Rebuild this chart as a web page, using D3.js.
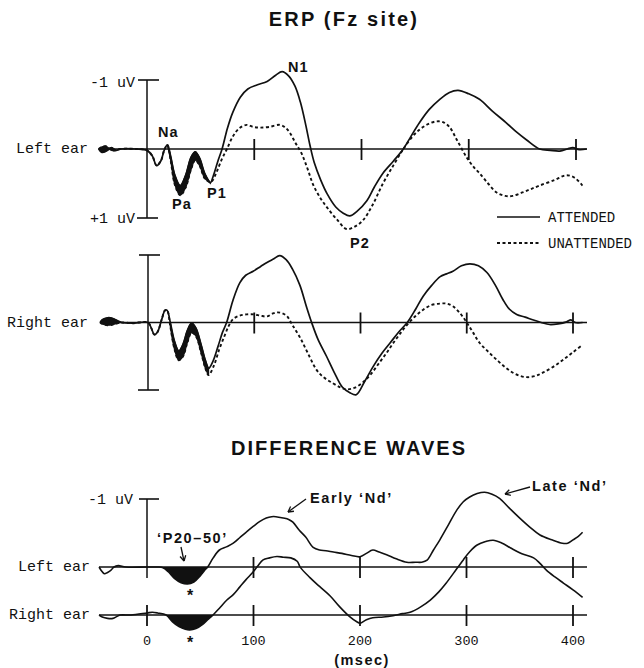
<!DOCTYPE html>
<html><head><meta charset="utf-8">
<script src="https://cdn.jsdelivr.net/npm/d3@7"></script>
<style>body{margin:0;background:#fff}svg{display:block}</style>
</head><body>
<svg id="chart" width="644" height="668"></svg>
<script>
// Waveforms: [time in ms, amplitude in uV]; negative is plotted upward.
const leftAttended = [[-45,0],[-42,0.05],[-38,0.03],[-33,-0.02],[-29,0.02],[-25,0],[-10,0],[0,0.02],
 [5,0.1],[9,0.24],[13,0.17],[16,0.02],[19,-0.06],[22,0.1],[26,0.38],[31,0.53],[36,0.38],[41,0.12],[45,0.04],
 [49,0.13],[54,0.36],[59,0.49],[62,0.38],[66,0.18],[70,0],[75,-0.3],[80,-0.53],[87,-0.75],[94,-0.87],
 [103,-0.93],[112,-0.98],[120,-1.07],[126,-1.12],[132,-1.06],[138,-0.91],[143,-0.68],[148,-0.35],[152,-0.05],
 [156,0.2],[162,0.45],[168,0.65],[176,0.84],[183,0.93],[189,0.97],[196,0.9],[205,0.75],[212,0.55],[220,0.35],
 [230,0.17],[239,0],[246,-0.18],[254,-0.38],[263,-0.57],[273,-0.72],[282,-0.82],[290,-0.85],[300,-0.8],
 [310,-0.72],[322,-0.55],[335,-0.38],[345,-0.24],[354,-0.13],[366,0],[376,0.02],[385,0.03],[392,0],
 [397,-0.02],[403,0.01],[410,0]];
const leftUnattended = [[-45,0],[-42,-0.03],[-38,-0.04],[-33,0.02],[-29,0.02],[-25,0],[-10,0],[0,0.02],
 [5,0.1],[9,0.24],[13,0.17],[16,0.02],[19,-0.06],[22,0.16],[26,0.52],[31,0.67],[36,0.56],[41,0.3],[45,0.16],
 [49,0.24],[54,0.43],[59,0.48],[61,0.46],[65,0.33],[70,0.14],[74.5,0],[80,-0.18],[86,-0.3],[93,-0.35],
 [99,-0.32],[105,-0.31],[114,-0.32],[124,-0.35],[129,-0.31],[133,-0.24],[138,-0.1],[144,0.06],[150,0.3],
 [155,0.52],[162,0.72],[168,0.85],[177,1.02],[186,1.16],[193,1.13],[201,1.04],[210,0.82],[220,0.5],
 [230,0.23],[239,0],[247,-0.17],[254,-0.28],[262,-0.36],[270,-0.4],[276,-0.39],[282,-0.32],[289,-0.13],
 [298,0.12],[305,0.27],[310,0.35],[318,0.5],[326,0.63],[334,0.68],[341,0.68],[350,0.63],[358,0.58],
 [366,0.53],[380,0.45],[391,0.38],[399,0.42],[406,0.53]];
const rightAttended = [[-45,0],[-43,-0.04],[-38,-0.07],[-33,-0.06],[-28,-0.02],[-25,0],[-15,0.01],[0,0],
 [3,0.08],[6,0.18],[9,0.14],[13,-0.05],[16,-0.18],[18,-0.18],[21,0],[25,0.28],[29,0.42],[33,0.32],[37,0.12],
 [41,0.01],[45,0.08],[50,0.33],[54,0.56],[57,0.68],[61,0.58],[66,0.35],[70,0.15],[74,0],[80,-0.33],
 [86.5,-0.59],[92,-0.7],[99,-0.76],[106,-0.83],[112,-0.89],[118,-0.94],[124,-0.99],[130,-0.93],[136,-0.79],
 [143,-0.55],[149,-0.24],[154,0],[160,0.25],[168,0.5],[175,0.73],[183,0.96],[190,1.04],[196,1.07],
 [204,0.87],[212,0.65],[220,0.46],[228,0.3],[236,0.14],[244,0],[252,-0.2],[259,-0.39],[267,-0.55],
 [275,-0.68],[281,-0.72],[287,-0.76],[295,-0.84],[303,-0.87],[311,-0.84],[319,-0.74],[327,-0.55],
 [334,-0.34],[340,-0.2],[347,-0.12],[355,-0.08],[362,-0.04],[370,0],[378,0.03],[386,0.02],[394,-0.01],
 [398,-0.04],[402,0],[409,0]];
const rightUnattended = [[-45,0],[-43,0.02],[-38,0.04],[-33,0.03],[-28,0.01],[-25,0],[-15,0.01],[0,0],
 [3,0.08],[6,0.18],[9,0.14],[13,-0.05],[16,-0.18],[18,-0.18],[21,0.06],[25,0.4],[29,0.56],[33,0.5],
 [37,0.3],[41,0.15],[45,0.2],[50,0.45],[54,0.68],[57,0.78],[62,0.64],[67,0.4],[72,0.2],[76,0.05],
 [80,-0.05],[86,-0.1],[93,-0.12],[100,-0.12],[106,-0.1],[112,-0.09],[117,-0.13],[121,-0.15],[126,-0.14],
 [131,-0.09],[136,0.04],[143,0.22],[150,0.44],[159,0.71],[166,0.82],[174,0.9],[181,0.96],[187,0.99],
 [194,0.97],[202,0.89],[210,0.76],[218,0.59],[225,0.44],[231,0.3],[238,0.15],[244,0.03],[252,-0.1],
 [259,-0.19],[267,-0.26],[275,-0.28],[281,-0.28],[287,-0.24],[294,-0.13],[300,0],[306,0.15],[312,0.3],
 [320,0.43],[328,0.55],[336,0.66],[343,0.74],[350,0.79],[357,0.81],[365,0.79],[372,0.74],[382,0.65],
 [391,0.55],[400,0.44],[409,0.33]];
const diffLeft = [[-45,0],[-43,0.05],[-40,0.1],[-37,0.08],[-34,0.05],[-31,0],[-27,-0.02],[-20,0],[0,0],
 [10,0],[15,0.01],[20,0.07],[26,0.17],[32,0.23],[38,0.25],[44,0.22],[50,0.13],[54,0.05],[57,0],[62,-0.13],
 [68,-0.25],[75,-0.3],[81,-0.35],[87,-0.43],[93,-0.51],[100,-0.6],[106,-0.67],[112,-0.72],[117,-0.74],
 [121,-0.74],[128,-0.72],[133,-0.7],[137,-0.66],[143,-0.54],[149,-0.44],[156,-0.29],[162,-0.25],
 [168,-0.24],[175,-0.22],[183,-0.2],[192,-0.17],[200,-0.15],[206,-0.2],[212,-0.25],[218,-0.22],
 [225,-0.18],[234,-0.12],[244,-0.07],[252,-0.07],[258,-0.07],[263,-0.1],[269,-0.25],[275,-0.4],
 [283,-0.62],[291,-0.84],[297,-0.96],[303,-1.03],[310,-1.08],[317,-1.1],[324,-1.07],[331,-1.01],
 [340,-0.87],[350,-0.72],[360,-0.58],[369,-0.47],[380,-0.4],[390,-0.35],[395,-0.35],[400,-0.4],
 [405,-0.45],[409,-0.51]];
const diffRight = [[-45,0],[-42,0.03],[-37,0.05],[-32,0.05],[-28,0.02],[-25,0],[-15,0],[0,-0.03],
 [5,-0.04],[10,-0.03],[18,0],[24,0.1],[30,0.17],[36,0.21],[40,0.22],[46,0.2],[52,0.14],[57,0.07],[62,0],
 [68,-0.1],[75,-0.22],[81,-0.3],[87,-0.41],[93,-0.52],[99,-0.62],[104,-0.72],[109,-0.81],[115,-0.84],
 [122,-0.86],[128,-0.85],[135,-0.84],[141,-0.79],[144,-0.7],[153,-0.55],[162,-0.42],[172,-0.28],
 [181,-0.12],[190,0.02],[197,0.1],[200,0.12],[206,0.07],[212,0.04],[222,0.03],[231,0.01],[240,-0.02],
 [247,-0.04],[257,-0.12],[266,-0.22],[274,-0.34],[281,-0.47],[289,-0.64],[297,-0.81],[303,-0.93],
 [310,-1.03],[318,-1.08],[325,-1.1],[333,-1.06],[341,-0.99],[352,-0.9],[363,-0.84],[369,-0.76],
 [375,-0.66],[383,-0.56],[391,-0.47],[400,-0.37],[409,-0.26]];

const timeTicks = [0, 100, 200, 300, 400];
const tickLabels = ["0", "100", "200", "300", "400"];
const legendLabels = ["ATTENDED", "UNATTENDED"];

const svg = d3.select("#chart");
const ink = "#111";
const mono = "'Liberation Mono', 'DejaVu Sans Mono', monospace";
const sans = "'Liberation Sans', Arial, sans-serif";

// One x scale and one y scale per trace row
const xTop = d3.scaleLinear().domain([0, 400]).range([147, 576]);
const xRight = d3.scaleLinear().domain([0, 400]).range([148, 573]);
const xDiff = d3.scaleLinear().domain([0, 400]).range([147, 573]);
const yLeft = d3.scaleLinear().domain([-1, 1]).range([80, 218]);
const yRight = d3.scaleLinear().domain([-1, 1]).range([255, 390]);
const yDiffL = d3.scaleLinear().domain([-1, 1]).range([499, 635]);
const yDiffR = d3.scaleLinear().domain([-1, 1]).range([547, 683]);

const curve = d3.curveCatmullRom.alpha(0.5);
const lineFn = (x, y) => d3.line().x(d => x(d[0])).y(d => y(d[1])).curve(curve);

function text(str, x, y, opts = {}) {
  return svg.append("text").attr("x", x).attr("y", y)
    .attr("font-family", opts.family || mono)
    .attr("font-size", opts.size || 15)
    .attr("font-weight", opts.weight || "normal")
    .attr("letter-spacing", opts.ls || 0)
    .attr("text-anchor", opts.anchor || "start")
    .attr("fill", ink).text(str);
}
function seg(x1, y1, x2, y2, w = 1.5) {
  svg.append("line").attr("x1", x1).attr("y1", y1).attr("x2", x2).attr("y2", y2)
    .attr("stroke", ink).attr("stroke-width", w);
}

// Filled band between two traces over [t0, t1]
function band(a, b, t0, t1, x, y) {
  const m = new Map(b.map(d => [d[0], d[1]]));
  const pts = a.filter(d => d[0] >= t0 && d[0] <= t1 && m.has(d[0]));
  svg.append("path")
    .attr("d", d3.area().x(d => x(d[0])).y0(d => y(d[1])).y1(d => y(m.get(d[0]))).curve(curve)(pts))
    .attr("fill", ink).attr("stroke", ink).attr("stroke-width", 1.2);
}

// ERP row: baseline, amplitude bar, time ticks, attended and unattended traces
function erpRow(att, un, x, y, label, bands) {
  const y0 = y(0);
  seg(x(-45), y0, 587, y0, 1.4);
  seg(x(0), y(-1), x(0), y(1), 1.5);
  seg(x(0) - 9, y(-1), x(0) + 12, y(-1), 1.6);
  seg(x(0) - 10, y(1), x(0) + 11, y(1), 1.6);
  timeTicks.slice(1).forEach(t => seg(x(t), y0 - 10, x(t), y0 + 11, 1.8));
  bands.forEach(r => band(att, un, r[0], r[1], x, y));
  svg.append("path").attr("d", lineFn(x, y)(att))
    .attr("fill", "none").attr("stroke", ink).attr("stroke-width", 1.7);
  svg.append("path").attr("d", lineFn(x, y)(un))
    .attr("fill", "none").attr("stroke", ink).attr("stroke-width", 1.9)
    .attr("stroke-dasharray", "3,2.5");
  text(label, 88, y0 + 4, { anchor: "end" });
}

// Titles
text("ERP (Fz site)", 344, 26, { family: sans, size: 20, weight: "bold", anchor: "middle", ls: 2.2 });
text("DIFFERENCE WAVES", 349, 455, { family: sans, size: 20, weight: "bold", anchor: "middle", ls: 2 });

erpRow(leftAttended, leftUnattended, xTop, yLeft, "Left ear", [[-45, -25], [19, 59]]);
erpRow(rightAttended, rightUnattended, xRight, yRight, "Right ear", [[-45, -25], [21, 57]]);

text("-1 uV", 135, 87, { anchor: "end" });
text("+1 uV", 135, 223, { anchor: "end" });

// Component labels
const bold = { family: sans, size: 14.5, weight: "bold", ls: 1 };
text("Na", 158, 137, bold);
text("Pa", 172, 209, bold);
text("P1", 207, 198, bold);
text("N1", 288, 72, bold);
text("P2", 350, 248, bold);

// Legend
seg(497, 217, 540, 217, 1.7);
svg.append("line").attr("x1", 497).attr("y1", 243).attr("x2", 540).attr("y2", 243)
  .attr("stroke", ink).attr("stroke-width", 1.9).attr("stroke-dasharray", "3,2.5");
text(legendLabels[0], 548, 222, { size: 14 });
text(legendLabels[1], 548, 248, { size: 14 });

// Difference waves
function diffRow(data, x, y, label, ticks, fillRange) {
  const y0 = y(0);
  seg(x(-45), y0, 587, y0, 1.4);
  ticks.forEach(t => seg(x(t), y0 - 10, x(t), y0 + 11, 1.8));
  const pts = data.filter(d => d[0] >= fillRange[0] && d[0] <= fillRange[1]);
  svg.append("path")
    .attr("d", d3.area().x(d => x(d[0])).y0(y0).y1(d => y(d[1])).curve(curve)(pts))
    .attr("fill", ink);
  svg.append("path").attr("d", lineFn(x, y)(data))
    .attr("fill", "none").attr("stroke", ink).attr("stroke-width", 1.6);
  text(label, 90, y0 + 4, { anchor: "end" });
}
diffRow(diffLeft, xDiff, yDiffL, "Left ear", [100, 200, 300, 400], [15, 57]);
diffRow(diffRight, xDiff, yDiffR, "Right ear", timeTicks, [18, 62]);
// amplitude bar for the difference rows
seg(xDiff(0), yDiffL(-1), xDiff(0), yDiffL(0) + 11, 1.5);
seg(xDiff(0) - 8, yDiffL(-1), xDiff(0) + 12, yDiffL(-1), 1.6);
text("-1 uV", 133, 504, { anchor: "end" });

// Time axis labels
timeTicks.forEach((t, i) => text(tickLabels[i], xDiff(t), 645, { anchor: "middle", size: 13.5 }));
text("(msec)", 362, 665, { family: sans, size: 14.5, weight: "bold", anchor: "middle", ls: 1.5 });

// Annotations with arrows
function arrow(x1, y1, x2, y2) {
  seg(x1, y1, x2, y2, 1.3);
  const a = Math.atan2(y2 - y1, x2 - x1), L = 6, s = 0.5;
  seg(x2, y2, x2 - L * Math.cos(a - s), y2 - L * Math.sin(a - s), 1.3);
  seg(x2, y2, x2 - L * Math.cos(a + s), y2 - L * Math.sin(a + s), 1.3);
}
const note = { family: sans, size: 14.5, weight: "bold", ls: 1.6 };
text("\u2018P20\u201350\u2019", 157, 543, note);
arrow(181, 547, 184, 561);
text("*", 190, 601, { family: sans, size: 16, weight: "bold", anchor: "middle" });
text("*", 190, 648, { family: sans, size: 16, weight: "bold", anchor: "middle" });
text("Early \u2018Nd\u2019", 310, 503, note);
arrow(306, 499, 288, 512);
text("Late \u2018Nd\u2019", 532, 491, note);
arrow(530, 487, 505, 494);
</script>
</body></html>
